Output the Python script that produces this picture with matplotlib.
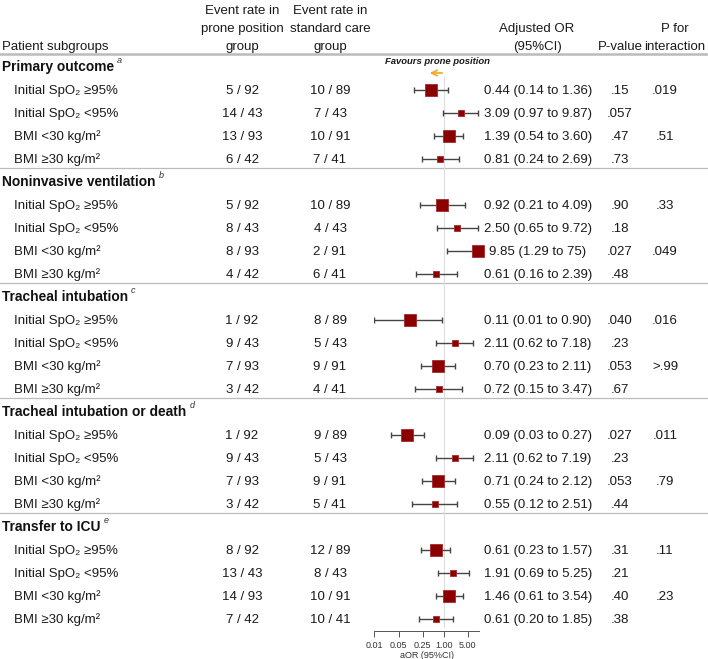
import matplotlib
matplotlib.use('Agg')
import matplotlib.pyplot as plt
import numpy as np

plt.rcParams['font.family'] = ['Liberation Sans', 'DejaVu Sans']

# Data
group_names = ['Primary outcome', 'Noninvasive ventilation', 'Tracheal intubation',
               'Tracheal intubation or death', 'Transfer to ICU']
group_marks = ['a', 'b', 'c', 'd', 'e']
subgroups = ['Initial SpO\u2082 \u226595%', 'Initial SpO\u2082 <95%',
             'BMI <30 kg/m\u00b2', 'BMI \u226530 kg/m\u00b2']

prone_events = [[5, 14, 13, 6], [5, 8, 8, 4], [1, 9, 7, 3], [1, 9, 7, 3], [8, 13, 14, 7]]
prone_n = [[92, 43, 93, 42]] * 5
std_events = [[10, 7, 10, 7], [10, 4, 2, 6], [8, 5, 9, 4], [9, 5, 9, 5], [12, 8, 10, 10]]
std_n = [[89, 43, 91, 41]] * 5

aor = [[0.44, 3.09, 1.39, 0.81], [0.92, 2.50, 9.85, 0.61], [0.11, 2.11, 0.70, 0.72],
       [0.09, 2.11, 0.71, 0.55], [0.61, 1.91, 1.46, 0.61]]
ci_low = [[0.14, 0.97, 0.54, 0.24], [0.21, 0.65, 1.29, 0.16], [0.01, 0.62, 0.23, 0.15],
          [0.03, 0.62, 0.24, 0.12], [0.23, 0.69, 0.61, 0.20]]
ci_high = [[1.36, 9.87, 3.60, 2.69], [4.09, 9.72, 75, 2.39], [0.90, 7.18, 2.11, 3.47],
           [0.27, 7.19, 2.12, 2.51], [1.57, 5.25, 3.54, 1.85]]
ci_text = [['0.44 (0.14 to 1.36)', '3.09 (0.97 to 9.87)', '1.39 (0.54 to 3.60)', '0.81 (0.24 to 2.69)'],
           ['0.92 (0.21 to 4.09)', '2.50 (0.65 to 9.72)', '9.85 (1.29 to 75)', '0.61 (0.16 to 2.39)'],
           ['0.11 (0.01 to 0.90)', '2.11 (0.62 to 7.18)', '0.70 (0.23 to 2.11)', '0.72 (0.15 to 3.47)'],
           ['0.09 (0.03 to 0.27)', '2.11 (0.62 to 7.19)', '0.71 (0.24 to 2.12)', '0.55 (0.12 to 2.51)'],
           ['0.61 (0.23 to 1.57)', '1.91 (0.69 to 5.25)', '1.46 (0.61 to 3.54)', '0.61 (0.20 to 1.85)']]
p_values = [['.15', '.057', '.47', '.73'], ['.90', '.18', '.027', '.48'],
            ['.040', '.23', '.053', '.67'], ['.027', '.23', '.053', '.44'],
            ['.31', '.21', '.40', '.38']]
p_interaction = [['.019', '', '.51', ''], ['.33', '', '.049', ''], ['.016', '', '>.99', ''],
                 ['.011', '', '.79', ''], ['.11', '', '.23', '']]

x_ticks = [0.01, 0.05, 0.25, 1.0, 5.0]
x_tick_labels = ['0.01', '0.05', '0.25', '1.00', '5.00']

W, H = 708, 659
ROW0, PITCH = 66.5, 23.0
BASE_OFF = 4.6  # baseline sits this many px below the visual centre of a line


def row_y(i):
    return ROW0 + PITCH * i


fig = plt.figure(figsize=(W / 100, H / 100), dpi=100)
ax_t = fig.add_axes([0, 0, 1, 1])
ax_t.set_xlim(0, W)
ax_t.set_ylim(H, 0)
ax_t.axis('off')

# forest panel
ax_l, ax_r, ax_top, ax_bot = 374, 479, 55, 631
ax_f = fig.add_axes([ax_l / W, 1 - ax_bot / H, (ax_r - ax_l) / W, (ax_bot - ax_top) / H])
ax_f.patch.set_alpha(0)
ax_f.set_xscale('log')
ax_f.set_xlim(0.0098, 10.5)
ax_f.set_ylim((ax_bot - ROW0) / PITCH, (ax_top - ROW0) / PITCH)
for s in ['top', 'right', 'left']:
    ax_f.spines[s].set_visible(False)
ax_f.spines['bottom'].set_color('#555555')
ax_f.spines['bottom'].set_linewidth(0.7)
ax_f.set_yticks([])
ax_f.set_xticks(x_ticks)
ax_f.set_xticklabels(x_tick_labels, fontsize=6.5, color='#333333')
ax_f.minorticks_off()
ax_f.tick_params(axis='x', length=4, width=0.7, color='#555555', pad=3)
ax_f.set_xlabel('aOR (95%CI)', fontsize=6.5, color='#333333', labelpad=1)
ax_f.vlines(1.0, 0.4, 24.4, color='#dddddd', lw=0.8, zorder=0)

txt = dict(fontsize=9.5, color='#1a1a1a', va='baseline')


def put(x, y, s, ha='center', **kw):
    opts = dict(txt)
    opts.update(kw)
    return ax_t.text(x, y + BASE_OFF, s, ha=ha, **opts)


# column headers, one line at a time
put(2, 45, 'Patient subgroups', ha='left')
for x, lines in [(242, ['Event rate in', 'prone position', 'group']),
                 (330, ['Event rate in', 'standard care', 'group']),
                 (537, ['', 'Adjusted OR', '(95%CI)']),
                 (620, ['', '', 'P-value']),
                 (675, ['', 'P for', 'interaction'])]:
    for j, s in enumerate(lines):
        if s:
            put(x, 9 + 18 * j, s)
ax_t.axhline(54, color='#bbbbbb', lw=1.8)

ax_t.text(437, 62, 'Favours prone position', ha='center', va='center', fontsize=6.8,
          fontweight='bold', style='italic', color='#1a1a1a')
ax_t.annotate('', xy=(427, 73), xytext=(445, 73),
              arrowprops=dict(arrowstyle='->', color='#f5a623', lw=1.2))

renderer = fig.canvas.get_renderer()
for g, name in enumerate(group_names):
    base = g * 5
    hy = row_y(base)
    if g > 0:
        ax_t.axhline(hy - 13.5, color='#bbbbbb', lw=0.9)
    t = put(2, hy, name, ha='left', fontsize=9.9, fontweight='bold', color='#111111')
    bb = t.get_window_extent(renderer)
    ax_t.text(bb.x1 + 3, hy - 6, group_marks[g], ha='left', va='center', fontsize=6.5,
              style='italic', color='#333333')
    for k in range(4):
        i = base + 1 + k
        y = row_y(i)
        put(14, y, subgroups[k], ha='left')
        put(242, y, f'{prone_events[g][k]} / {prone_n[g][k]}')
        put(330, y, f'{std_events[g][k]} / {std_n[g][k]}')
        put(538, y, ci_text[g][k])
        put(620, y, p_values[g][k])
        put(665, y, p_interaction[g][k])

        # confidence interval and square
        ax_f.hlines(i, ci_low[g][k], ci_high[g][k], color='#444444', lw=1.0, zorder=2)
        ax_f.plot([ci_low[g][k], ci_high[g][k]], [i, i], ls='none', marker='|', ms=5,
                  mew=1.0, color='#444444', zorder=2)
        total_n = prone_n[g][k] + std_n[g][k]
        ax_f.plot(aor[g][k], i, marker='s', ms=total_n / 15.5 * 0.72, mfc='#8b0000',
                  mec='#a52a2a', mew=0.6, ls='none', zorder=3, clip_on=False)

fig.savefig('out.png', dpi=100)
